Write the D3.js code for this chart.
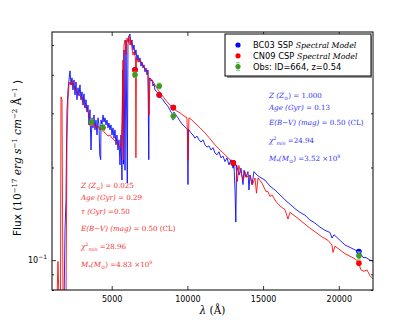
<!DOCTYPE html>
<html>
<head>
<meta charset="utf-8">
<script src="https://cdn.jsdelivr.net/npm/d3@7"></script>
<style>
  body { margin: 0; background: #fff; }
  svg { display: block; }
</style>
</head>
<body>
<svg id="chart" width="415" height="323"></svg>
<script>
// BC03 SSP model spectrum (wavelength in Angstrom, flux in 1e-17 erg/s/cm2/A)
const bc03Wave = [1580,1850,1915,1981,2014,2047,2113,2179,2246,2312,2378,2444,2510,2576,2642,2708,2774,2840,2906,2972,3038,3104,3170,3236,3302,3368,3434,3500,3567,3633,3699,3765,3831,3897,3963,4029,4095,4161,4210,4273,4293,4359,4425,4491,4557,4623,4689,4755,4821,4888,4954,5020,5086,5152,5218,5284,5350,5416,5482,5548,5614,5680,5730,5779,5812,5878,5944,6030,6076,6142,6209,6275,6341,6407,6473,6539,6605,6671,6737,6803,6869,6935,7001,7067,7133,7199,7265,7331,7397,7450,7480,7596,7662,7728,7794,7860,7992,8124,8256,8388,8520,8652,8784,8917,9020,9049,9080,9115,9247,9379,9511,9643,9775,9907,10010,10039,10070,10105,10238,10370,10502,10634,10766,10898,11030,11162,11295,11427,11559,11691,11823,11955,12087,12219,12351,12483,12615,12747,12880,13012,13078,13144,13200,13250,13408,13540,13672,13738,13870,14002,14068,14135,14267,14399,14597,14795,15125,15456,15786,16116,16446,16777,17107,17437,17767,18098,18428,18758,19088,19419,19551,19683,20079,20409,20740,21070,21400,21598,21796,22061,22259];
const bc03Flux = [0.070,0.070,0.125,0.157,0.228,0.306,0.357,0.385,0.412,0.371,0.391,0.357,0.385,0.344,0.379,0.332,0.363,0.342,0.371,0.332,0.352,0.319,0.347,0.312,0.332,0.303,0.319,0.275,0.308,0.228,0.290,0.269,0.296,0.265,0.285,0.255,0.290,0.275,0.220,0.212,0.285,0.275,0.296,0.281,0.290,0.275,0.285,0.269,0.279,0.265,0.275,0.255,0.269,0.249,0.265,0.237,0.255,0.228,0.246,0.204,0.255,0.182,0.415,0.205,0.482,0.196,0.519,0.178,0.500,0.535,0.543,0.500,0.519,0.482,0.500,0.464,0.482,0.447,0.464,0.440,0.454,0.427,0.440,0.421,0.431,0.409,0.421,0.400,0.415,0.212,0.391,0.382,0.385,0.368,0.374,0.357,0.352,0.344,0.337,0.332,0.324,0.319,0.312,0.303,0.298,0.285,0.300,0.303,0.296,0.290,0.283,0.277,0.273,0.269,0.266,0.176,0.266,0.265,0.259,0.255,0.249,0.253,0.246,0.242,0.246,0.237,0.233,0.235,0.228,0.232,0.223,0.220,0.225,0.215,0.218,0.209,0.215,0.204,0.212,0.199,0.204,0.169,0.133,0.204,0.189,0.199,0.176,0.196,0.186,0.194,0.169,0.189,0.176,0.194,0.189,0.186,0.182,0.174,0.169,0.163,0.157,0.152,0.147,0.143,0.140,0.135,0.132,0.128,0.125,0.123,0.118,0.121,0.116,0.112,0.110,0.108,0.106,0.102,0.102,0.100,0.0995];

// CN09 CSP model spectrum
const cn09Wave = [1057,1387,1453,1519,1618,1651,1717,1783,1981,2047,2113,2179,2246,2312,2378,2444,2510,2642,2774,2906,3038,3170,3302,3434,3567,3699,3831,3963,4095,4227,4359,4491,4623,4755,4888,5020,5152,5284,5416,5548,5614,5680,5746,5779,5812,5878,5944,6010,6076,6142,6209,6275,6341,6407,6473,6572,6600,6638,6737,6869,7001,7133,7265,7397,7463,7530,7662,7860,8058,8256,8454,8652,8851,9049,9247,9511,9775,9973,10039,10105,10304,10568,10832,11162,11493,11823,12153,12483,12814,13012,13210,13300,13400,13474,13700,13804,13900,14135,14300,14465,14564,14663,14927,15191,15323,15456,15588,15852,16116,16446,16644,16777,17107,17437,17767,18098,18494,18890,19286,19551,19617,19749,20079,20409,20740,21070,21268,21466,21664,21862,22061,22259];
const cn09Flux = [0.074,0.074,0.099,0.074,0.074,0.339,0.332,0.074,0.074,0.246,0.332,0.371,0.379,0.371,0.382,0.374,0.363,0.357,0.347,0.342,0.332,0.319,0.312,0.303,0.290,0.279,0.275,0.269,0.273,0.265,0.269,0.261,0.257,0.253,0.255,0.249,0.246,0.242,0.237,0.233,0.232,0.285,0.447,0.212,0.500,0.519,0.464,0.527,0.511,0.535,0.500,0.519,0.489,0.464,0.475,0.454,0.215,0.454,0.440,0.447,0.436,0.424,0.415,0.406,0.296,0.391,0.385,0.371,0.357,0.347,0.337,0.327,0.319,0.312,0.306,0.301,0.294,0.290,0.212,0.290,0.285,0.277,0.269,0.259,0.248,0.237,0.228,0.220,0.212,0.207,0.203,0.180,0.203,0.196,0.182,0.194,0.186,0.189,0.176,0.185,0.165,0.185,0.178,0.167,0.167,0.161,0.163,0.155,0.150,0.146,0.136,0.143,0.139,0.135,0.131,0.127,0.123,0.119,0.116,0.112,0.106,0.111,0.108,0.105,0.103,0.101,0.099,0.093,0.092,0.093,0.089,0.087];

// photometry: filter wavelengths, model fluxes, observed fluxes
const filterWave = [3680, 4400, 6540, 8140, 9070, 13030, 21330];
const bc03Phot = [0.280, 0.270, 0.415, 0.344, 0.313, 0.207, 0.1066];
const cn09Phot = [0.278, 0.268, 0.415, 0.344, 0.313, 0.207, 0.0978];
const obsWave = [3680, 4400, 6540, 8140, 9070, 21330];
const obsFlux = [0.281, 0.270, 0.400, 0.368, 0.294, 0.1033];
const obsErr = [0.006, 0.006, 0.008, 0.008, 0.006, 0.003];

const xTicks = [5000, 10000, 15000, 20000];
const yMinor = [0.08, 0.09, 0.2, 0.3, 0.4, 0.5];

const margin = {left: 52, right: 42, top: 32, bottom: 33};
const width = 415, height = 323;

const svg = d3.select("#chart");

const x = d3.scaleLinear().domain([1057, 22260]).range([margin.left, width - margin.right]);
const y = d3.scaleLog().domain([0.08, 0.551]).range([height - margin.bottom, margin.top]);

svg.append("defs").append("clipPath").attr("id", "plot")
  .append("rect")
  .attr("x", margin.left).attr("y", margin.top)
  .attr("width", x.range()[1] - x.range()[0])
  .attr("height", y.range()[0] - y.range()[1]);

const line = d3.line().x(d => x(d[0])).y(d => y(d[1]));

const g = svg.append("g").attr("clip-path", "url(#plot)");

g.append("path")
  .datum(d3.zip(bc03Wave, bc03Flux))
  .attr("d", line)
  .attr("fill", "none")
  .attr("stroke", "#0000ff")
  .attr("stroke-opacity", 0.85)
  .attr("stroke-width", 1);

g.append("path")
  .datum(d3.zip(cn09Wave, cn09Flux))
  .attr("d", line)
  .attr("fill", "none")
  .attr("stroke", "#ff0000")
  .attr("stroke-opacity", 0.85)
  .attr("stroke-width", 1);

// model photometry
g.selectAll(".bpt").data(d3.zip(filterWave, bc03Phot)).enter()
  .append("circle")
  .attr("cx", d => x(d[0])).attr("cy", d => y(d[1])).attr("r", 2.8)
  .attr("fill", "#0000ff");

g.selectAll(".rpt").data(d3.zip(filterWave, cn09Phot)).enter()
  .append("circle")
  .attr("cx", d => x(d[0])).attr("cy", d => y(d[1])).attr("r", 2.8)
  .attr("fill", "#ff0000");

// observations with error bars
const obs = d3.zip(obsWave, obsFlux, obsErr);
g.selectAll(".err").data(obs).enter()
  .append("path")
  .attr("d", d => {
    const cx = x(d[0]), y0 = y(d[1] - d[2]), y1 = y(d[1] + d[2]);
    return `M${cx},${y0}V${y1}M${cx-2},${y0}H${cx+2}M${cx-2},${y1}H${cx+2}`;
  })
  .attr("stroke", "#8fd18f").attr("stroke-width", 1).attr("fill", "none");
g.selectAll(".obs").data(obs).enter()
  .append("circle")
  .attr("cx", d => x(d[0])).attr("cy", d => y(d[1])).attr("r", 2.8)
  .attr("fill", "#3c9a1e");

// axes (ticks point inward)
const axFont = "DejaVu Sans";
function styleAxis(sel) {
  sel.select(".domain").remove();
  sel.selectAll("line").attr("stroke", "#000").attr("stroke-width", 0.8);
  sel.selectAll("text").attr("font-family", axFont).attr("font-size", 8).attr("fill", "#000");
}

svg.append("g").attr("transform", `translate(0,${y.range()[0]})`)
  .call(d3.axisBottom(x).tickValues(xTicks).tickSizeInner(-4).tickPadding(6).tickFormat(d3.format("d")))
  .call(styleAxis);
svg.append("g").attr("transform", `translate(0,${y.range()[1]})`)
  .call(d3.axisTop(x).tickValues(xTicks).tickSizeInner(-4).tickFormat(""))
  .call(styleAxis);

svg.append("g").attr("transform", `translate(${x.range()[0]},0)`)
  .call(d3.axisLeft(y).tickValues(yMinor).tickSizeInner(-2).tickFormat(""))
  .call(styleAxis);
svg.append("g").attr("transform", `translate(${x.range()[1]},0)`)
  .call(d3.axisRight(y).tickValues(yMinor).tickSizeInner(-2).tickFormat(""))
  .call(styleAxis);
svg.append("g").attr("transform", `translate(${x.range()[0]},0)`)
  .call(d3.axisLeft(y).tickValues([0.1]).tickSizeInner(-4).tickFormat(""))
  .call(styleAxis);
svg.append("g").attr("transform", `translate(${x.range()[1]},0)`)
  .call(d3.axisRight(y).tickValues([0.1]).tickSizeInner(-4).tickFormat(""))
  .call(styleAxis);

const t01 = svg.append("text").attr("x", x.range()[0] - 5).attr("y", y(0.1) + 3)
  .attr("text-anchor", "end").attr("font-family", axFont).attr("font-size", 8);
t01.append("tspan").text("10");
t01.append("tspan").attr("dy", -4).attr("font-size", 6).text("−1");

// frame
svg.append("rect")
  .attr("x", x.range()[0]).attr("y", y.range()[1])
  .attr("width", x.range()[1] - x.range()[0])
  .attr("height", y.range()[0] - y.range()[1])
  .attr("fill", "none").attr("stroke", "#000").attr("stroke-width", 1);

// axis labels
const serif = "DejaVu Serif";
const xl = svg.append("text").attr("x", (x.range()[0] + x.range()[1]) / 2).attr("y", 314)
  .attr("text-anchor", "middle").attr("font-family", serif).attr("font-size", 10.5);
xl.append("tspan").attr("font-style", "italic").text("λ");
xl.append("tspan").text(" (Å)");

const yl = svg.append("text").attr("transform", "translate(21,158) rotate(-90)")
  .attr("text-anchor", "middle").attr("font-size", 10.5);
yl.append("tspan").attr("font-family", axFont).text("Flux (");
yl.append("tspan").attr("font-family", serif).text("10");
yl.append("tspan").attr("font-family", serif).attr("font-size", 7).attr("dy", -4).text("−17");
yl.append("tspan").attr("font-family", serif).attr("font-style", "italic").attr("dy", 4).text(" erg s");
yl.append("tspan").attr("font-family", serif).attr("font-size", 7).attr("dy", -4).text("−1");
yl.append("tspan").attr("font-family", serif).attr("font-style", "italic").attr("dy", 4).text(" cm");
yl.append("tspan").attr("font-family", serif).attr("font-size", 7).attr("dy", -4).text("−2");
yl.append("tspan").attr("font-family", serif).attr("dy", 4).text(" Å");
yl.append("tspan").attr("font-family", serif).attr("font-size", 7).attr("dy", -4).text("−1");
yl.append("tspan").attr("font-family", axFont).attr("dy", 4).text(" )");

// legend
const lg = svg.append("g");
lg.append("rect").attr("x", 227).attr("y", 36).attr("width", 146).attr("height", 42).attr("fill", "#999");
lg.append("rect").attr("x", 225).attr("y", 34).attr("width", 146).attr("height", 42)
  .attr("fill", "#fff").attr("stroke", "#000").attr("stroke-width", 1);
const legendRows = [
  {color: "#0000ff", a: "BC03 SSP ", b: "Spectral Model"},
  {color: "#ff0000", a: "CN09 CSP ", b: "Spectral Model"},
  {color: "#3c9a1e", a: "Obs: ID=664, z=0.54", b: ""}
];
legendRows.forEach((r, i) => {
  const cy = 45 + i * 10.8;
  if (i === 2) {
    lg.append("path").attr("d", `M238,${cy-4}V${cy+4}M236,${cy-4}H240M236,${cy+4}H240`)
      .attr("stroke", "#8fd18f").attr("fill", "none");
  }
  lg.append("circle").attr("cx", 238).attr("cy", cy).attr("r", 2.6).attr("fill", r.color);
  const t = lg.append("text").attr("x", 253).attr("y", cy + 3).attr("font-size", 8.3);
  t.append("tspan").attr("font-family", axFont).text(r.a);
  if (r.b) t.append("tspan").attr("font-family", serif).attr("font-style", "italic").attr("font-size", 7.8).text(r.b);
});

// fit parameter annotations
function mathLines(parts, x0, ys, color) {
  parts.forEach((p, i) => {
    const t = svg.append("text").attr("x", x0).attr("y", ys[i])
      .attr("font-family", serif).attr("font-size", 7.1).attr("fill", color);
    p.forEach(s => {
      const ts = t.append("tspan").text(s.t);
      if (s.i) ts.attr("font-style", "italic");
      if (s.dy) ts.attr("dy", s.dy);
      if (s.fs) ts.attr("font-size", s.fs);
    });
  });
}
const bcLines = [
  [{t: "Z", i: 1}, {t: " (Z", i: 1}, {t: "⊙", dy: 1.5, fs: 5.2}, {t: ") = 1.000", dy: -1.5}],
  [{t: "Age (Gyr)", i: 1}, {t: " = 0.13"}],
  [{t: "E(B−V) (mag)", i: 1}, {t: " = 0.50 (CL)"}],
  [{t: "χ", i: 1}, {t: "2", dy: -3, fs: 4.8}, {t: "min", i: 1, dy: 5, fs: 4.8}, {t: " =24.94", dy: -2}],
  [{t: "M", i: 1}, {t: "*", dy: 1.5, fs: 5.2}, {t: "(M", i: 1, dy: -1.5}, {t: "⊙", dy: 1.5, fs: 5.2}, {t: ") =3.52 ×10", dy: -1.5}, {t: "9", dy: -3, fs: 4.8}]
];
mathLines(bcLines, 269, [98, 110, 125, 143, 161], "#3535f0");

const cnLines = [
  [{t: "Z", i: 1}, {t: " (Z", i: 1}, {t: "⊙", dy: 1.5, fs: 5.2}, {t: ") = 0.025", dy: -1.5}],
  [{t: "Age (Gyr)", i: 1}, {t: " = 0.29"}],
  [{t: "τ (Gyr)", i: 1}, {t: " =0.50"}],
  [{t: "E(B−V) (mag)", i: 1}, {t: " = 0.50 (CL)"}],
  [{t: "χ", i: 1}, {t: "2", dy: -3, fs: 4.8}, {t: "min", i: 1, dy: 5, fs: 4.8}, {t: " =28.96", dy: -2}],
  [{t: "M", i: 1}, {t: "*", dy: 1.5, fs: 5.2}, {t: "(M", i: 1, dy: -1.5}, {t: "⊙", dy: 1.5, fs: 5.2}, {t: ") =4.83 ×10", dy: -1.5}, {t: "9", dy: -3, fs: 4.8}]
];
mathLines(cnLines, 81, [188, 200, 214, 231, 249, 267], "#f03535");
</script>
</body>
</html>
